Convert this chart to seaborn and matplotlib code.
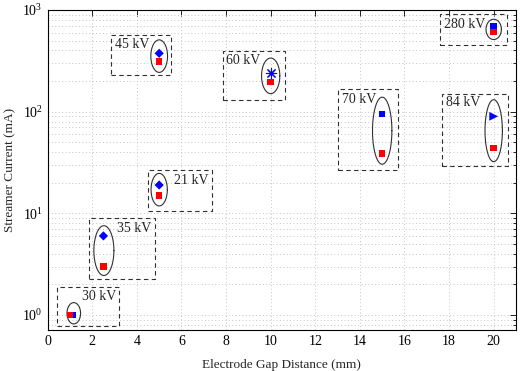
import matplotlib

matplotlib.use("Agg")
import matplotlib.pyplot as plt  # noqa: E402
import numpy as np  # noqa: E402
import pandas as pd  # noqa: E402
import seaborn as sns  # noqa: E402
from matplotlib.patches import Rectangle  # noqa: E402
from matplotlib.ticker import LogLocator, FixedLocator  # noqa: E402

sns.set_style("white")
plt.rcParams["font.family"] = ["Liberation Serif", "DejaVu Serif"]
plt.rcParams["mathtext.fontset"] = "stix"

# ---------------------------------------------------------------------------
# data
# ---------------------------------------------------------------------------
labels = ["30 kV", "35 kV", "21 kV", "45 kV", "60 kV", "70 kV", "84 kV", "280 kV"]
gap_mm = [1.0, 2.5, 5.0, 5.0, 10.0, 15.0, 20.0, 20.0]
blue_gap_mm = [1.13, 2.5, 5.0, 5.0, 10.0, 15.0, 20.0, 20.0]
red_current = [1.0, 3.0, 15.0, 310, 195, 39, 44, 610]
blue_current = [1.0, 6.0, 19.0, 375, 240, 95, 90, 700]
blue_marker = ["s", "D", "D", "D", "ast", "s", ">", "s"]

# ellipses: centre gap, centre current, width (mm), height (decades)
ell_x = [1.17, 2.52, 5.0, 5.0, 10.0, 15.0, 20.0, 20.0]
ell_y = [1.04, 4.3, 17.1, 352, 225, 65, 65, 645]
ell_w = [0.61, 0.9, 0.73, 0.75, 0.82, 0.87, 0.78, 0.69]
ell_h = [0.21, 0.49, 0.32, 0.32, 0.35, 0.66, 0.61, 0.2]

# dashed boxes
box_x0 = [0.435, 1.87, 4.5, 2.82, 7.85, 13.02, 17.68, 17.58]
box_x1 = [3.22, 4.8, 7.35, 5.54, 10.63, 15.73, 20.65, 20.6]
box_lo = [0.78, 2.25, 10.5, 231, 131, 26.4, 29.1, 451]
box_hi = [1.88, 9.08, 26.8, 565, 396, 169, 148, 907]

# label anchors (left, centre)
text_x = [1.54, 3.09, 5.66, 3.0, 8.01, 13.18, 17.86, 17.77]
text_y = [1.51, 7.1, 21, 454, 316, 133, 122, 713]

red = pd.DataFrame({"gap": gap_mm, "current": red_current})
blue = pd.DataFrame({"gap": blue_gap_mm, "current": blue_current, "marker": blue_marker})

fig = plt.figure(figsize=(5.2, 3.71), dpi=100)
ax = fig.add_axes([0.0917, 0.1105, 0.9006, 0.8625])
ax.set_yscale("log")
ax.set_xlim(0, 21)
ax.set_ylim(0.712, 1000)

# grid, MATLAB style
ax.xaxis.set_major_locator(FixedLocator(np.arange(0, 21, 2)))
ax.yaxis.set_major_locator(LogLocator(base=10))
ax.yaxis.set_minor_locator(LogLocator(base=10, subs=np.arange(2, 10)))
grid_kw = dict(linestyle=(0, (1, 2.5)), color="#c4c4c4", lw=0.7)
ax.grid(True, which="major", axis="both", **grid_kw)
ax.grid(True, which="minor", axis="y", **grid_kw)
ax.set_axisbelow(True)
ax.tick_params(which="both", direction="in", top=True, right=True, labelsize=10,
               colors="black")
ax.tick_params(which="major", length=4, width=0.6)
ax.tick_params(which="minor", length=2, width=0.6)
for s in ax.spines.values():
    s.set_color("black")
    s.set_linewidth(0.8)

# boxes
for x0, x1, lo, hi in zip(box_x0, box_x1, box_lo, box_hi):
    ax.add_patch(Rectangle((x0, lo), x1 - x0, hi - lo, fill=False, ls=(0, (4, 3)),
                           ec="#303030", lw=0.8, zorder=2))

# ellipses drawn in (mm, log10 current) space
t = np.linspace(0, 2 * np.pi, 200)
for cx, cy, w, h in zip(ell_x, ell_y, ell_w, ell_h):
    ax.plot(cx + w / 2 * np.cos(t), 10 ** (np.log10(cy) + h / 2 * np.sin(t)),
            color="#303030", lw=0.8, zorder=3)

# markers
sns.scatterplot(data=red, x="gap", y="current", marker="s", color="red", s=22,
                edgecolor="none", ax=ax, zorder=5)
for m, grp in blue.groupby("marker"):
    if m == "ast":
        sns.scatterplot(data=grp, x="gap", y="current", marker=(8, 2, 0),
                        color="blue", s=55, linewidth=0.8, ax=ax, zorder=5)
    else:
        sz = {"s": 22, "D": 22, ">": 40}[m]
        sns.scatterplot(data=grp, x="gap", y="current", marker=m, color="blue",
                        s=sz, edgecolor="none", ax=ax, zorder=4)

for lab, tx, ty in zip(labels, text_x, text_y):
    ax.text(tx, ty, lab, ha="left", va="center", fontsize=10, zorder=6)

ax.set_xlabel("Electrode Gap Distance (mm)", fontsize=9.5, labelpad=8)
ax.set_ylabel("Streamer Current (mA)", fontsize=9.5, labelpad=4)

fig.savefig("out.png", dpi=100)
plt.close(fig)
